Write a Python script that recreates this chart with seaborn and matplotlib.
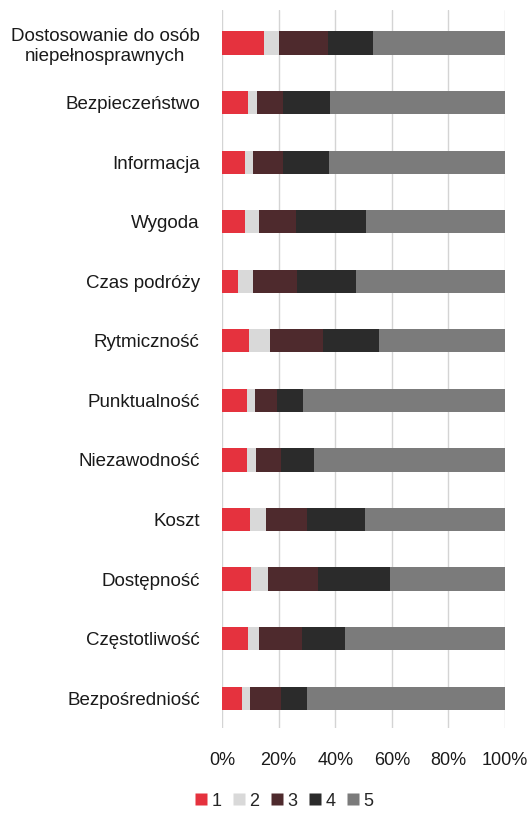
import matplotlib
matplotlib.use("Agg")
import matplotlib.pyplot as plt
import seaborn as sns
import pandas as pd
import numpy as np
from matplotlib.lines import Line2D

categories = ["Dostosowanie do osób\nniepełnosprawnych", "Bezpieczeństwo", "Informacja", "Wygoda",
              "Czas podróży", "Rytmiczność", "Punktualność", "Niezawodność", "Koszt",
              "Dostępność", "Częstotliwość", "Bezpośredniość"]
s1 = [15.0, 9.3, 8.0, 8.0, 5.8, 9.7, 8.7, 8.7, 9.9, 10.3, 9.3, 7.2]
s2 = [5.0, 3.0, 3.0, 5.0, 5.0, 7.3, 3.0, 3.3, 5.7, 5.8, 3.6, 2.7]
s3 = [17.6, 9.4, 10.7, 13.3, 15.7, 18.7, 7.7, 8.9, 14.4, 17.7, 15.4, 11.0]
s4 = [15.6, 16.3, 16.2, 24.5, 20.9, 19.7, 9.2, 11.7, 20.4, 25.4, 15.3, 9.1]
s5 = [46.8, 62.0, 62.1, 49.2, 52.6, 44.6, 71.4, 67.4, 49.6, 40.8, 56.4, 70.0]
series_names = ["1", "2", "3", "4", "5"]
xticks = [0, 20, 40, 60, 80, 100]
colors = ["#e5323e", "#d9d9d9", "#4e2a2d", "#2b2b2b", "#7b7b7b"]

sns.set_theme(style="white")
plt.rcParams['font.family'] = ['Liberation Sans', 'DejaVu Sans']

series = [s1, s2, s3, s4, s5]
df = pd.DataFrame({"cat": categories})
cum = np.zeros(len(categories))
for name, s in zip(series_names, series):
    cum = cum + np.array(s)
    df["c" + name] = cum.copy()

fig = plt.figure(figsize=(5.31, 8.14), dpi=100)
top_px, bot_px = 10, 728
ax = fig.add_axes([222/531, 1 - bot_px/814, (505-222)/531, (bot_px-top_px)/814])

for name, col in reversed(list(zip(series_names, colors))):
    sns.barplot(data=df, y="cat", x="c" + name, orient="h", color=col,
                width=0.39, ax=ax, saturation=1, edgecolor="none", linewidth=0)

ax.set_xlim(0, 100)
ax.set_ylim(11.5, -(43 - top_px) / 59.5)
ax.set_xticks(xticks)
ax.set_xticklabels([f"{t}%" for t in xticks], fontsize=13, color="#1a1a1a")
ax.tick_params(axis="x", pad=17, length=0)
ax.tick_params(axis="y", pad=16, length=0)
for lbl in ax.get_yticklabels():
    lbl.set_fontsize(13.5)
    lbl.set_color("#1a1a1a")
    lbl.set_multialignment("center")
ax.set_xlabel("")
ax.set_ylabel("")
for sp in ax.spines.values():
    sp.set_visible(False)
ax.set_axisbelow(True)
ax.grid(axis="x", color="#d4d4d4", linewidth=1)
ax.grid(axis="y", visible=False)

handles = [Line2D([0], [0], marker="s", color="none", markerfacecolor=c, markeredgecolor="none",
                  markersize=9, label=n) for n, c in zip(series_names, colors)]
fig.legend(handles=handles, loc="center", bbox_to_anchor=(284/531, 1 - 801/814), ncol=5,
           frameon=False, fontsize=13, handlelength=0.7, handletextpad=0.25, columnspacing=0.6)

fig.savefig("out.png", dpi=100)
